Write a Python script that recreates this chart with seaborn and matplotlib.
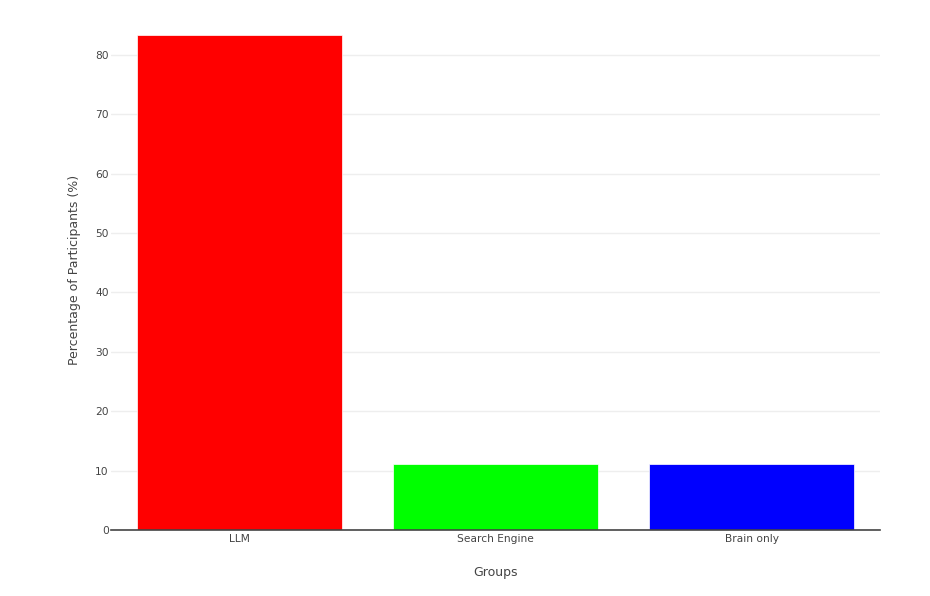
import matplotlib
matplotlib.use("Agg")
import matplotlib.pyplot as plt
import seaborn as sns
import pandas as pd

groups = ["LLM", "Search Engine", "Brain only"]
percentages = [83.33, 11.11, 11.11]
bar_colors = ["#ff0000", "#00ff00", "#0000ff"]
y_ticks = [0, 10, 20, 30, 40, 50, 60, 70, 80]

df = pd.DataFrame({"Groups": groups, "Pct": percentages})

sns.set_theme(style="white")
plt.rcParams['font.family'] = ['DejaVu Sans']

W, H = 930, 596
fig = plt.figure(figsize=(W / 100, H / 100), dpi=100)
left, right, top, bottom = 111, 880, 9, 530
ax = fig.add_axes([left / W, (H - bottom) / H, (right - left) / W, (bottom - top) / H])

sns.barplot(data=df, x="Groups", y="Pct", hue="Groups", palette=bar_colors,
            width=0.8, ax=ax, legend=False, saturation=1, edgecolor="white", linewidth=0.5)

ax.set_xlim(-0.5, 2.5)
ax.set_ylim(0, 87.72)
ax.set_yticks(y_ticks)
ax.grid(axis="y", color="#eeeeee", linewidth=1)
ax.set_axisbelow(True)
for s in ["top", "right", "left"]:
    ax.spines[s].set_visible(False)
ax.spines["bottom"].set_color("#444444")
ax.spines["bottom"].set_linewidth(1.2)
ax.tick_params(axis="both", length=0, labelsize=7.7, labelcolor="#444444", pad=1.5)
ax.tick_params(axis="x", pad=3)
ax.set_xlabel("Groups", fontsize=9, color="#444444", labelpad=16)
ax.set_ylabel("Percentage of Participants (%)", fontsize=9, color="#444444", labelpad=10)

fig.savefig("out.png", dpi=100, facecolor="white")
